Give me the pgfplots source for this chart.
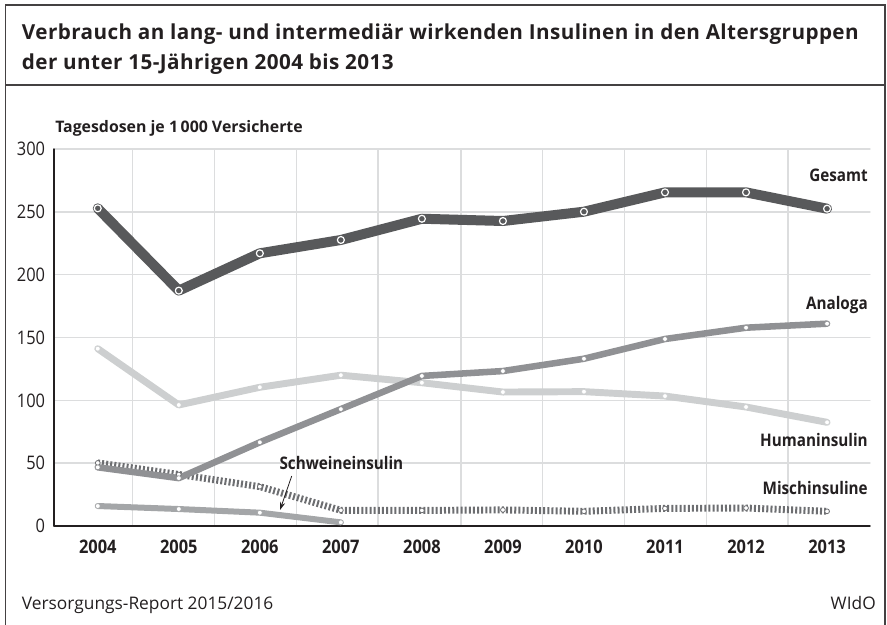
\documentclass[border=0pt]{standalone}
\usepackage{pgfplots}
\pgfplotsset{compat=1.18}
\usetikzlibrary{arrows.meta}
\usepackage{fontspec}
\setmainfont{Open Sans}
\newfontfamily\cond{Open Sans}[FakeStretch=0.88]

\definecolor{gesamt}{HTML}{58595B}
\definecolor{analoga}{HTML}{909194}
\definecolor{schwein}{HTML}{A4A6A8}
\definecolor{human}{HTML}{CDCFD0}
\definecolor{misch}{HTML}{6D6E71}
\definecolor{gridc}{HTML}{DCDDDE}
\definecolor{txt}{HTML}{231F20}

\begin{document}
\begin{tikzpicture}[x=0.75pt,y=0.75pt]
\path[use as bounding box] (0,0) rectangle (887,624);
\coordinate (axorig) at (54,98);

\begin{axis}[
    at={(axorig)}, anchor=south west,
    scale only axis,
    width=612pt, height=282.75pt,
    xmin=-0.54, xmax=9.53,
    ymin=0, ymax=300,
    axis x line*=bottom, axis y line*=left,
    axis line style={-, txt, line width=1pt},
    xtick={0,...,9},
    xticklabels={2004,2005,2006,2007,2008,2009,2010,2011,2012,2013},
    minor xtick={0.43,1.44,2.45,3.46,4.48,5.49,6.50,7.51,8.52},
    ytick={0,50,...,300},
    major tick length=0pt, minor tick length=0pt,
    ymajorgrids, xminorgrids,
    grid style={draw=gridc, line width=1.1pt},
    minor grid style={draw=gridc, line width=1.1pt},
    xticklabel style={font=\cond\fontsize{14}{16}\selectfont\bfseries, text=txt, inner sep=0pt, yshift=-10pt},
    yticklabel style={font=\cond\fontsize{14}{16}\selectfont, text=txt, inner sep=0pt, anchor=east, xshift=-6.5pt},
    /pgf/number format/assume math mode=true,
    clip=false,
    line join=round, line cap=round,
]
% Schweineinsulin
\addplot[schwein, line width=4.5pt, mark=*, mark size=1.8pt,
    mark options={fill=white, draw=schwein, line width=0.4pt}] coordinates {
    (0,15.9) (1,13.5) (2,10.6) (3,2.9)
};
% Mischinsuline
\addplot[misch, line width=5.2pt, line cap=butt, dash pattern=on 1.5pt off 1.6pt,
    mark=*, mark size=1.8pt,
    mark options={solid, fill=white, draw=misch, line width=0.6pt}] coordinates {
    (0,50.2) (1,41) (2,31.3) (3,12.5) (4,12.4) (5,12.8) (6,11.7) (7,14.0) (8,14.3) (9,11.7)
};
% Humaninsulin
\addplot[human, line width=5.2pt, mark=*, mark size=1.8pt,
    mark options={fill=white, draw=human, line width=0.4pt}] coordinates {
    (0,141.1) (1,96.3) (2,110.4) (3,120.0) (4,114.0) (5,106.6) (6,106.9) (7,103.4) (8,94.7) (9,82.5)
};
% Analoga
\addplot[analoga, line width=4.9pt, mark=*, mark size=1.8pt,
    mark options={fill=white, draw=analoga, line width=0.4pt}] coordinates {
    (0,46.7) (1,38.1) (2,66.6) (3,93.0) (4,119.4) (5,123.3) (6,133.1) (7,148.8) (8,157.8) (9,161.0)
};
% Gesamt
\addplot[gesamt, line width=7.5pt, mark=o, mark size=2.6pt,
    mark options={draw=white, line width=0.9pt}] coordinates {
    (0,252.8) (1,187.3) (2,217.0) (3,227.6) (4,244.5) (5,242.7) (6,250.1) (7,265.5) (8,265.5) (9,252.5)
};
\end{axis}

% frame
\draw[txt!85, line width=1.1pt] (5.5,-10) -- (5.5,619) -- (885,619) -- (885,-10);
\draw[txt!85, line width=1.1pt] (5.5,539) -- (885,539);

% title
\node[anchor=base west, inner sep=0pt, text=txt, font=\fontsize{15.5}{18}\selectfont\bfseries\addfontfeature{LetterSpace=2}]
  at (21.7,584) {Verbrauch an lang- und intermediär wirkenden Insulinen in den Altersgruppen};
\node[anchor=base west, inner sep=0pt, text=txt, font=\fontsize{15.5}{18}\selectfont\bfseries\addfontfeature{LetterSpace=2}]
  at (21.7,554.5) {der unter 15-Jährigen 2004 bis 2013};

% axis title
\node[anchor=base west, inner sep=0pt, text=txt, font=\fontsize{11.9}{14}\selectfont\bfseries]
  at (55,491.7) {Tagesdosen je 1\,000 Versicherte};

% series labels
\begin{scope}[every node/.style={inner sep=0pt, text=txt, font=\cond\fontsize{13}{15}\selectfont\bfseries}]
\node[anchor=base east] at (868,442.3) {Gesamt};
\node[anchor=base east] at (868,314) {Analoga};
\node[anchor=base east] at (868,177.3) {Humaninsulin};
\node[anchor=base east] at (868,129) {Mischinsuline};
\node[anchor=base west] at (279.3,154) {Schweineinsulin};
\end{scope}
\draw[txt, line width=0.6pt, -{Stealth[length=6pt,width=4pt]}] (291.7,148) -- (280,114);

% footer
\node[anchor=base west, inner sep=0pt, text=txt, font=\fontsize{13}{15}\selectfont]
  at (21.7,15) {Versorgungs-Report 2015/2016};
\node[anchor=base east, inner sep=0pt, text=txt, font=\fontsize{13}{15}\selectfont]
  at (876,15) {WIdO};
\end{tikzpicture}
\end{document}
